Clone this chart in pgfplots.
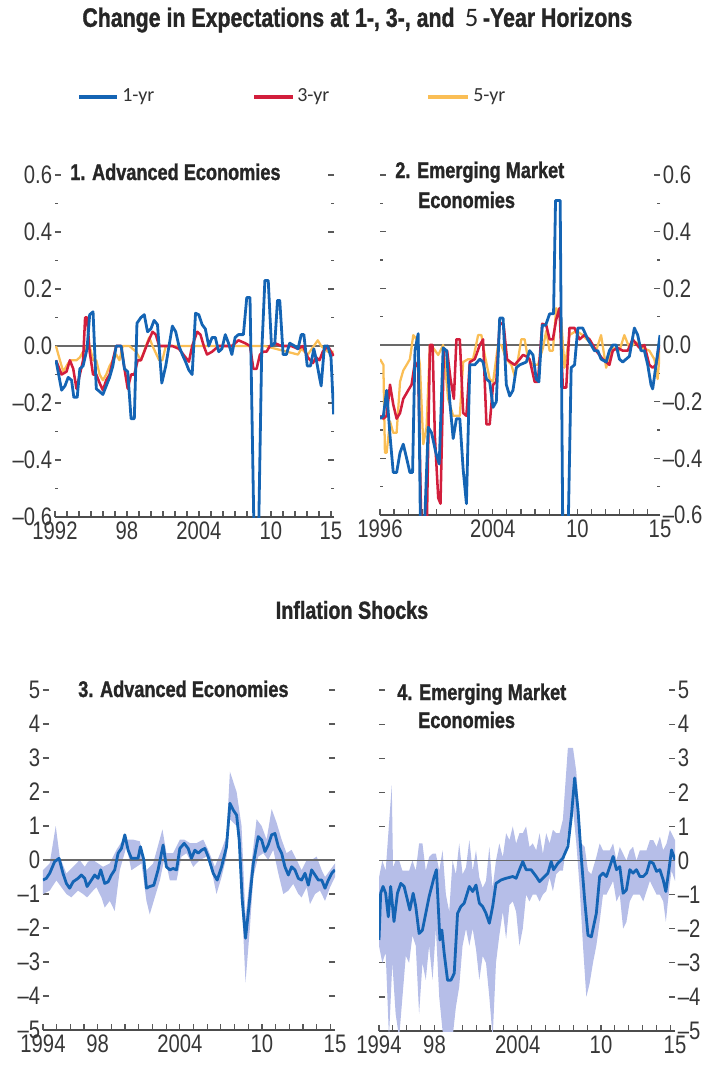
\documentclass[border=0pt]{standalone}
\usepackage{pgfplots}
\pgfplotsset{compat=1.18}
\usepackage{pgfplotstable}
\usepackage{fontspec}
\setmainfont{Liberation Sans}[FakeStretch=0.8, BoldFeatures={FakeBold=1.2}]
\newfontfamily\carlito{Carlito}

\definecolor{blueline}{RGB}{20,100,180}
\definecolor{redline}{RGB}{210,30,60}
\definecolor{yellowline}{RGB}{250,190,85}
\definecolor{bandc}{RGB}{182,190,232}
\definecolor{zeroc}{RGB}{105,105,105}
\definecolor{tickc}{RGB}{55,55,55}

% Panel 1: Advanced economies, change in expectations
\pgfplotstableread{
x y
1992.08 -0.05
1992.55 -0.155
1992.83 -0.14
1993.10 -0.11
1993.38 -0.12
1993.57 -0.18
1993.85 -0.18
1994.07 -0.08
1994.34 -0.07
1994.67 -0.01
1994.89 0.11
1995.17 0.12
1995.44 -0.15
1995.72 -0.16
1995.99 -0.17
1996.27 -0.14
1996.55 -0.11
1996.82 -0.07
1997.10 0
1997.51 0
1997.79 -0.08
1998.06 -0.09
1998.34 -0.255
1998.61 -0.255
1998.83 0.08
1999.16 0.10
1999.44 0.11
1999.71 0.05
1999.99 0.06
2000.26 0.09
2000.54 0.075
2000.90 -0.13
2001.23 -0.07
2001.50 0
2001.78 0.07
2002.06 0.05
2002.33 0
2002.61 -0.03
2002.88 -0.055
2003.16 -0.085
2003.43 -0.10
2003.71 0.115
2003.98 0.11
2004.26 0.075
2004.53 0.06
2004.81 0.0
2005.09 0.03
2005.36 0.03
2005.64 -0.02
2005.91 -0.01
2006.19 0.04
2006.46 0.01
2006.74 -0.03
2007.01 0.03
2007.29 0.04
2007.70 0.04
2007.98 0.17
2008.25 0.17
2008.60 -0.70
2008.95 -0.70
2009.22 -0.03
2009.49 0.23
2009.77 0.23
2010.04 0.0
2010.32 0.01
2010.54 0.16
2010.73 0.16
2011.01 -0.03
2011.28 -0.03
2011.56 0.01
2011.97 0.0
2012.25 -0.01
2012.52 0.04
2012.74 0.04
2013.02 -0.07
2013.29 -0.07
2013.57 -0.01
2013.76 -0.045
2014.04 -0.11
2014.18 -0.14
2014.45 0.0
2014.73 0.0
2015.00 -0.04
2015.22 -0.24
}\poneA
\pgfplotstableread{
x y
1992.08 -0.05
1992.55 -0.10
1992.96 -0.09
1993.24 -0.05
1993.52 -0.08
1993.79 -0.15
1994.07 -0.10
1994.34 -0.05
1994.51 0.10
1994.67 0.10
1994.89 -0.02
1995.17 -0.10
1995.44 -0.10
1995.72 -0.13
1995.99 -0.155
1996.27 -0.12
1996.55 -0.10
1996.82 -0.05
1997.10 0
1997.51 0
1997.79 -0.08
1998.06 -0.15
1998.34 -0.10
1998.61 -0.10
1998.89 -0.05
1999.16 -0.05
1999.44 -0.02
1999.71 0.01
2000.13 0.05
2000.40 0.04
2000.68 0.0
2001.23 0
2001.78 0
2002.33 -0.01
2002.88 -0.04
2003.16 -0.055
2003.43 0
2003.85 0.05
2004.12 0.04
2004.40 0.0
2004.67 -0.03
2005.09 -0.02
2005.64 0
2006.74 0
2007.29 0.02
2007.84 0.01
2008.25 0.0
2008.53 -0.08
2008.80 -0.08
2009.08 -0.03
2009.36 -0.02
2009.63 -0.02
2009.91 0.0
2010.32 0.01
2010.87 0
2011.70 0
2012.25 -0.01
2012.66 0
2013.07 -0.04
2013.49 -0.06
2013.76 -0.04
2014.04 -0.05
2014.31 -0.02
2014.73 0
2015.22 -0.035
}\poneB
\pgfplotstableread{
x y
1992.08 0
1992.41 -0.05
1992.69 -0.09
1993.10 -0.06
1993.38 -0.05
1993.79 -0.05
1994.07 -0.04
1994.34 -0.02
1994.67 0
1994.89 0
1995.17 -0.05
1995.44 -0.05
1995.72 -0.10
1995.99 -0.12
1996.27 -0.10
1996.55 -0.07
1996.82 -0.05
1997.10 -0.03
1997.37 -0.05
1997.65 0
1998.20 0
1998.75 -0.02
1999.16 -0.05
1999.58 0
1999.85 0.03
2000.13 0
2000.68 -0.05
2000.95 -0.05
2001.23 0
2003.98 0
2009.49 0
2012.25 -0.03
2012.52 -0.01
2013.07 -0.03
2013.90 0.02
2014.18 0
2014.73 -0.02
2015.22 -0.02
}\poneC

% Panel 2: Emerging market economies, change in expectations
\pgfplotstableread{
x y
1996.00 -0.26
1996.24 -0.25
1996.47 -0.16
1996.71 -0.32
1996.94 -0.45
1997.18 -0.45
1997.42 -0.38
1997.65 -0.35
1997.89 -0.40
1998.12 -0.45
1998.31 -0.45
1998.48 -0.02
1998.71 0.04
1998.88 -0.70
1999.11 -0.70
1999.42 -0.29
1999.66 -0.31
1999.96 -0.38
2000.20 -0.42
2000.48 -0.01
2000.72 -0.02
2000.95 -0.20
2001.19 -0.33
2001.42 -0.26
2001.66 -0.26
2001.90 -0.44
2002.13 -0.56
2002.37 -0.07
2002.72 -0.07
2003.08 -0.05
2003.31 -0.06
2003.55 -0.12
2003.78 -0.13
2004.02 -0.22
2004.25 -0.20
2004.49 0.095
2004.73 0.095
2004.96 -0.14
2005.20 -0.18
2005.43 -0.16
2005.67 -0.08
2005.91 -0.07
2006.38 -0.06
2006.61 -0.02
2006.85 -0.035
2007.08 -0.12
2007.27 -0.13
2007.51 0.07
2007.75 0.07
2008.03 0.11
2008.31 0.11
2008.45 0.51
2008.78 0.51
2008.97 -0.70
2009.33 -0.70
2009.56 -0.08
2009.80 -0.07
2010.03 0.06
2010.38 0.06
2010.74 0.02
2010.98 0.0
2011.21 -0.02
2011.45 -0.02
2011.68 -0.05
2012.04 -0.06
2012.27 -0.02
2012.51 0.0
2012.75 0.0
2012.98 -0.05
2013.22 -0.06
2013.45 -0.05
2013.69 -0.04
2014.04 0.06
2014.28 0.035
2014.51 -0.02
2014.75 -0.02
2014.99 -0.07
2015.22 -0.14
2015.34 -0.155
2015.58 -0.07
2015.86 0.035
}\ptwoA
\pgfplotstableread{
x y
1996.00 -0.25
1996.24 -0.26
1996.47 -0.25
1996.71 -0.14
1996.94 -0.21
1997.18 -0.26
1997.42 -0.24
1997.65 -0.19
1998.00 -0.16
1998.24 -0.14
1998.48 -0.06
1998.71 -0.08
1998.95 -0.70
1999.30 -0.70
1999.54 0.0
1999.73 0.0
1999.89 -0.32
2000.13 -0.54
2000.29 -0.56
2000.53 -0.02
2000.76 -0.02
2001.00 -0.12
2001.24 -0.19
2001.42 0.02
2001.66 0.02
2001.90 -0.24
2002.13 -0.25
2002.37 -0.06
2002.72 -0.05
2003.08 0.0
2003.31 0.02
2003.55 -0.28
2003.78 -0.28
2004.02 -0.14
2004.25 -0.13
2004.49 0.08
2004.77 0.07
2005.01 -0.05
2005.25 -0.06
2005.55 -0.07
2005.91 -0.05
2006.14 -0.035
2006.38 -0.04
2006.61 -0.05
2006.97 -0.13
2007.20 -0.13
2007.51 0.075
2007.79 0.07
2008.03 0.02
2008.26 0.02
2008.50 0.09
2008.73 0.13
2008.97 -0.15
2009.21 -0.15
2009.44 0.06
2009.80 0.06
2010.15 0.02
2010.50 0.035
2010.86 0.02
2011.33 -0.02
2011.80 -0.05
2012.27 -0.07
2012.51 -0.02
2012.86 -0.01
2013.22 -0.02
2013.57 -0.02
2013.92 0.02
2014.40 -0.01
2014.75 0.0
2015.10 -0.07
2015.34 -0.08
2015.58 -0.07
2015.81 0.0
}\ptwoB
\pgfplotstableread{
x y
1996.00 -0.05
1996.24 -0.07
1996.35 -0.38
1996.47 -0.38
1996.71 -0.27
1996.94 -0.31
1997.18 -0.31
1997.42 -0.13
1997.65 -0.09
1997.89 -0.07
1998.12 -0.05
1998.36 0.035
1998.59 0.02
1998.83 -0.07
1999.07 -0.35
1999.30 -0.29
1999.54 0.0
1999.77 -0.01
2000.13 -0.035
2000.48 0.0
2000.83 -0.19
2001.19 -0.25
2001.42 -0.25
2001.66 -0.25
2001.90 -0.06
2002.25 -0.05
2002.60 -0.05
2002.96 0.035
2003.19 0.035
2003.43 -0.035
2003.78 -0.12
2004.02 -0.13
2004.37 0.0
2004.61 0.0
2004.96 -0.05
2005.32 -0.07
2005.55 -0.11
2005.79 -0.05
2006.02 0.02
2006.26 0.02
2006.50 -0.05
2006.85 -0.07
2007.20 -0.07
2007.56 -0.01
2007.79 0.05
2008.03 -0.02
2008.26 -0.02
2008.50 0.13
2008.85 0.09
2009.09 -0.08
2009.44 0.035
2009.92 0.05
2010.38 0.035
2010.86 0.01
2011.33 -0.02
2011.68 0.035
2012.04 -0.08
2012.51 -0.01
2012.98 -0.02
2013.33 0.035
2013.69 -0.01
2014.16 0.01
2014.63 -0.01
2015.10 -0.02
2015.46 -0.05
2015.69 -0.12
2015.86 -0.02
}\ptwoC

% Panel 3: Advanced economies, inflation shocks
\pgfplotstableread{
x y
1994.00 -0.59
1994.24 -0.54
1994.49 -0.39
1994.85 -0.05
1995.17 0.05
1995.46 -0.39
1995.71 -0.69
1995.95 -0.83
1996.20 -0.64
1996.56 -0.54
1996.80 -0.44
1997.05 -0.54
1997.22 -0.78
1997.54 -0.59
1997.78 -0.44
1998.02 -0.54
1998.22 -0.29
1998.51 -0.69
1998.76 -0.64
1999.00 -0.44
1999.24 -0.29
1999.49 0.20
1999.73 0.34
1999.98 0.74
2000.22 0.29
2000.46 0.05
2000.71 0.05
2000.95 0.05
2001.12 0.39
2001.37 0.00
2001.56 -0.83
2001.80 -0.78
2002.10 -0.74
2002.41 -0.29
2002.78 0.44
2003.02 -0.20
2003.27 -0.29
2003.51 -0.25
2003.76 -0.29
2004.00 0.34
2004.32 0.49
2004.61 0.34
2004.85 0.05
2005.10 0.29
2005.34 0.20
2005.59 0.29
2005.83 0.34
2006.07 0.10
2006.44 -0.39
2006.73 -0.59
2007.05 -0.20
2007.41 0.39
2007.66 1.67
2007.90 1.47
2008.15 1.32
2008.34 0.59
2008.56 -1.18
2008.80 -2.30
2009.05 -1.37
2009.37 -0.10
2009.73 0.69
2009.98 0.59
2010.22 0.25
2010.46 0.44
2010.71 0.74
2010.95 0.78
2011.20 0.39
2011.44 0.20
2011.68 -0.20
2011.93 -0.44
2012.17 -0.20
2012.41 -0.29
2012.66 -0.54
2012.90 -0.59
2013.15 -0.39
2013.39 -0.74
2013.63 -0.29
2013.88 -0.44
2014.12 -0.59
2014.37 -0.59
2014.61 -0.83
2014.85 -0.59
2015.10 -0.39
2015.34 -0.29
}\pthree
% band: upper edge left to right, then lower edge right to left
\pgfplotstableread{
x y
1994.00 -0.3
1994.49 -0.1
1994.93 1.0
1995.22 0.1
1995.71 -0.4
1996.20 -0.2
1996.68 0.0
1997.05 -0.2
1997.29 -0.05
1997.66 0.0
1998.02 -0.1
1998.39 -0.2
1998.88 -0.1
1999.37 0.3
1999.85 0.6
2000.22 0.6
2000.59 0.6
2001.07 0.55
2001.56 -0.3
2002.05 -0.1
2002.73 0.9
2003.02 0.2
2003.51 0.2
2004.00 0.6
2004.32 0.6
2004.73 0.5
2005.22 0.5
2005.71 0.6
2006.07 0.3
2006.56 -0.2
2007.05 0.3
2007.41 0.7
2007.66 2.6
2008.15 2.0
2008.51 1.0
2008.80 -1.7
2009.12 -0.5
2009.61 1.2
2009.98 1.0
2010.34 0.6
2010.71 1.5
2011.07 1.1
2011.44 0.6
2011.80 0.2
2012.17 0.3
2012.54 0.0
2012.90 -0.3
2013.27 0.0
2013.63 0.0
2014.00 0.1
2014.37 -0.3
2014.61 -0.5
2014.98 -0.3
2015.34 -0.1
2015.34 -0.5
2014.98 -0.8
2014.61 -1.2
2014.24 -0.9
2013.88 -1.0
2013.51 -1.3
2013.27 -0.8
2012.90 -1.1
2012.66 -1.0
2012.29 -0.7
2011.93 -0.9
2011.56 -1.0
2011.20 -0.4
2010.83 0.3
2010.46 0.0
2010.10 0.2
2009.73 0.1
2009.37 -0.5
2009.12 -2.0
2008.80 -3.6
2008.39 0.0
2008.15 1.0
2007.66 1.2
2007.41 0.1
2007.05 -0.5
2006.68 -1.0
2006.32 -0.3
2005.95 0.1
2005.46 0.0
2004.98 -0.2
2004.49 0.2
2004.12 0.1
2003.76 -0.6
2003.27 -0.6
2002.90 0.1
2002.54 -0.6
2002.17 -1.1
2001.80 -1.6
2001.56 -1.2
2001.20 -0.1
2000.83 -0.2
2000.46 -0.3
2000.10 0.4
1999.61 -0.3
1999.24 -1.5
1998.88 -1.2
1998.51 -1.4
1998.27 -1.1
1997.90 -0.8
1997.66 -0.9
1997.22 -1.1
1996.93 -1.0
1996.56 -0.9
1996.07 -1.1
1995.71 -1.0
1995.34 -0.8
1994.98 -0.6
1994.49 -0.9
1994.00 -1.0
}\pthreeband

% Panel 4: Emerging market economies, inflation shocks
\pgfplotstableread{
x y
1994.00 -2.33
1994.12 -0.96
1994.29 -0.76
1994.48 -0.96
1994.67 -1.65
1994.84 -0.76
1995.08 -1.79
1995.33 -0.96
1995.57 -0.67
1995.81 -0.76
1996.05 -1.16
1996.22 -1.45
1996.46 -0.96
1996.65 -1.35
1996.89 -2.14
1997.13 -2.04
1997.37 -1.55
1997.61 -1.06
1997.98 -0.47
1998.14 -0.27
1998.39 -2.33
1998.53 -2.04
1998.70 -2.73
1998.94 -3.51
1999.18 -3.51
1999.42 -3.31
1999.66 -1.55
1999.90 -1.35
2000.14 -1.25
2000.51 -0.76
2000.75 -0.91
2000.99 -0.72
2001.23 -1.25
2001.47 -1.35
2001.71 -1.55
2001.95 -1.84
2002.19 -1.35
2002.43 -0.67
2002.80 -0.57
2003.16 -0.52
2003.64 -0.47
2003.88 -0.52
2004.12 -0.27
2004.36 -0.03
2004.60 -0.27
2004.96 -0.27
2005.33 -0.47
2005.57 -0.62
2005.93 -0.47
2006.17 -0.37
2006.41 -0.03
2006.58 -0.27
2006.89 -0.08
2007.25 0.07
2007.61 0.41
2007.86 1.29
2008.10 2.42
2008.34 1.49
2008.58 0.07
2008.82 -1.16
2009.06 -2.19
2009.30 -2.24
2009.66 -1.55
2009.90 -0.47
2010.14 -0.37
2010.39 -0.47
2010.63 -0.18
2010.87 0.12
2011.11 -0.27
2011.35 -0.18
2011.59 -0.96
2011.83 -0.86
2012.07 -0.27
2012.31 -0.37
2012.55 -0.27
2012.80 -0.47
2013.04 -0.47
2013.28 -0.37
2013.52 -0.03
2013.76 -0.08
2014.00 -0.32
2014.24 -0.27
2014.48 -0.57
2014.67 -0.91
2014.92 -0.18
2015.08 0.31
2015.33 0.02
}\pfour
\pgfplotstableread{
x y
1994.00 -0.5
1994.24 0.0
1994.48 -0.3
1994.92 2.2
1995.01 -0.2
1995.20 0.0
1995.45 0.0
1995.69 -0.3
1995.93 -0.3
1996.17 -0.3
1996.41 0.0
1996.65 -0.3
1996.89 0.5
1997.13 0.5
1997.37 -0.3
1997.61 0.1
1997.86 0.2
1998.10 0.2
1998.34 -0.3
1998.58 0.3
1998.82 -1.0
1999.06 -1.5
1999.30 0.0
1999.54 -0.4
1999.78 0.5
2000.02 -0.4
2000.27 -0.2
2000.51 0.6
2000.75 -0.3
2000.99 0.3
2001.23 -0.5
2001.47 -0.8
2001.71 -0.6
2001.95 0.4
2002.19 -0.8
2002.43 0.0
2002.67 0.5
2002.92 0.1
2003.16 0.8
2003.40 0.6
2003.64 1.0
2003.88 0.5
2004.12 0.8
2004.36 0.8
2004.60 1.0
2004.84 0.4
2005.08 0.5
2005.33 0.3
2005.57 0.8
2005.81 0.2
2006.05 0.8
2006.29 0.5
2006.53 0.9
2006.77 0.8
2007.01 0.8
2007.25 1.2
2007.61 3.3
2007.98 3.3
2008.22 2.6
2008.58 0.5
2008.82 0.4
2009.06 -0.3
2009.30 -0.4
2009.66 0.1
2009.90 0.5
2010.14 0.3
2010.39 0.3
2010.63 0.3
2010.87 0.5
2011.11 0.0
2011.35 0.4
2011.59 0.2
2011.83 0.0
2012.07 0.3
2012.31 0.4
2012.55 0.0
2012.80 0.3
2013.04 0.3
2013.28 0.3
2013.52 0.6
2013.76 0.6
2014.00 0.4
2014.24 0.7
2014.48 0.3
2014.72 0.5
2014.96 0.9
2015.33 0.6
2015.33 -0.6
2015.08 -0.3
2014.92 -0.8
2014.67 -1.8
2014.48 -1.2
2014.24 -1.0
2014.00 -1.0
2013.76 -0.8
2013.52 -0.6
2013.28 -0.9
2013.04 -1.2
2012.80 -1.0
2012.55 -1.0
2012.31 -1.0
2012.07 -1.2
2011.83 -1.8
2011.59 -2.0
2011.35 -1.0
2011.11 -1.2
2010.87 -0.6
2010.63 -0.8
2010.39 -1.0
2010.14 -1.0
2009.90 -1.8
2009.66 -2.5
2009.42 -3.0
2009.18 -3.6
2008.94 -4.0
2008.70 -2.5
2008.46 -0.8
2008.22 0.5
2007.98 1.5
2007.61 0.8
2007.25 -0.3
2007.01 -0.3
2006.77 -0.4
2006.53 -0.9
2006.29 -0.5
2006.05 -0.9
2005.81 -1.0
2005.57 -1.2
2005.33 -1.0
2005.08 -1.0
2004.84 -1.2
2004.60 -1.0
2004.36 -2.0
2004.12 -2.5
2003.88 -1.5
2003.64 -1.2
2003.40 -1.3
2003.16 -2.3
2002.92 -1.5
2002.67 -2.2
2002.43 -3.0
2002.19 -5.2
2001.95 -4.0
2001.71 -3.0
2001.47 -2.8
2001.23 -3.5
2000.99 -2.6
2000.75 -2.0
2000.51 -2.5
2000.27 -2.0
2000.02 -2.5
1999.78 -3.7
1999.54 -4.3
1999.30 -5.2
1999.06 -5.2
1998.82 -5.2
1998.58 -5.0
1998.34 -4.0
1998.10 -2.0
1997.86 -3.5
1997.61 -2.5
1997.37 -3.5
1997.13 -3.0
1996.89 -4.5
1996.65 -2.5
1996.41 -2.2
1996.17 -3.0
1995.93 -2.8
1995.69 -4.0
1995.45 -5.2
1995.20 -4.5
1994.96 -3.0
1994.72 -5.2
1994.48 -2.7
1994.24 -3.0
1994.00 -2.5
}\pfourband

\pgfplotsset{
  every non boxed x axis/.style={},
  every non boxed y axis/.style={},
  panel/.style={
    scale only axis,
    axis x line=bottom,
    axis y line=box,
    x axis line style={-, draw=black!70, line width=0.9pt},
    y axis line style={draw=none},
    tick align=inside,
    xtick align=inside,
    major tick length=4.5pt,
    minor tick length=2pt,
    every tick/.style={draw=black!65, line width=0.9pt},
    tick label style={font=\fontsize{19}{21}\selectfont, text=tickc},
    yticklabel style={inner sep=2pt},
    enlargelimits=false,
    /pgf/number format/assume math mode=true,
    extra x tick style={major tick length=0pt},
  },
  zero/.style={draw=zeroc, line width=1.1pt, forget plot},
  l1/.style={draw=blueline, line width=2.1pt, line join=round},
  l3/.style={draw=redline, line width=1.9pt, line join=round},
  l5/.style={draw=yellowline, line width=1.7pt, line join=round},
}

\begin{document}
\begin{tikzpicture}
\useasboundingbox (0,0) rectangle (531pt,-800.25pt);

% ---- Title and legend
\node[text=black!85] at (268pt,-15pt) {\fontsize{20}{23}\selectfont\bfseries Change in Expectations at 1-, 3-, and\, {\carlito\mdseries 5}\,-Year Horizons};
\draw[blueline, line width=2.4pt] (59.25pt,-72.75pt) -- (87.75pt,-72.75pt);
\node[anchor=west, inner sep=0pt, text=black!80] at (91.5pt,-72.75pt) {\carlito\fontsize{15}{17}\selectfont 1-yr};
\draw[redline, line width=2.4pt] (190.5pt,-72.75pt) -- (219.75pt,-72.75pt);
\node[anchor=west, inner sep=0pt, text=black!80] at (222.75pt,-72.75pt) {\carlito\fontsize{15}{17}\selectfont 3-yr};
\draw[yellowline, line width=2.4pt] (321pt,-72.75pt) -- (351pt,-72.75pt);
\node[anchor=west, inner sep=0pt, text=black!80] at (354.75pt,-72.75pt) {\carlito\fontsize{15}{17}\selectfont 5-yr};

% ---- Panel 1
\begin{axis}[panel,
  at={(41.25pt,-387.75pt)}, anchor=south west,
  width=209.25pt, height=256.5pt,
  xmin=1992, xmax=2015.25, ymin=-0.6, ymax=0.6,
  xtick={1992,...,2015},
  xticklabels={1992,,,,,,98,,,,,,2004,,,,,,10,,,,,15},
  ytick={-0.6,-0.4,...,0.6},
  yticklabels={--0.6,--0.4,--0.2,0.0,0.2,0.4,0.6},
  minor y tick num=1,
]
\addplot[zero] coordinates {(1992,0) (2015.25,0)};
\addplot[l5] table {\poneC};
\addplot[l3] table {\poneB};
\addplot[l1] table {\poneA};
\end{axis}

% ---- Panel 2
\begin{axis}[panel,
  at={(285pt,-386.25pt)}, anchor=south west,
  width=210pt, height=255pt,
  xmin=1996, xmax=2015.86, ymin=-0.6, ymax=0.6,
  xtick={1996,...,2015},
  xticklabels={1996,,,,,,,,2004,,,,,,10,,,,,},
  extra x ticks={2015.86}, extra x tick labels={15},
  ytick={-0.6,-0.4,...,0.6},
  yticklabels={--0.6,--0.4,--0.2,0.0,0.2,0.4,0.6},
  yticklabel pos=right,
  minor y tick num=1,
]
\addplot[zero] coordinates {(1996,0) (2015.86,0)};
\addplot[l5] table {\ptwoC};
\addplot[l3] table {\ptwoB};
\addplot[l1] table {\ptwoA};
\end{axis}

% ---- Panel 3
\begin{axis}[panel,
  at={(32.25pt,-772.5pt)}, anchor=south west,
  width=219pt, height=255pt,
  xmin=1994, xmax=2015.34, ymin=-5, ymax=5,
  xtick={1994,...,2015},
  xticklabels={1994,,,,98,,,,,,2004,,,,,,10,,,,,},
  extra x ticks={2015.34}, extra x tick labels={15},
  ytick={-5,...,5},
  yticklabels={--5,--4,--3,--2,--1,0,1,2,3,4,5},
]
\addplot[fill=bandc, draw=none, forget plot] table {\pthreeband};
\addplot[zero] coordinates {(1994,0) (2015.34,0)};
\addplot[l1] table {\pthree};
\end{axis}

% ---- Panel 4
\begin{axis}[panel,
  at={(284.25pt,-773.25pt)}, anchor=south west,
  width=222pt, height=255.75pt,
  xmin=1994, xmax=2015.33, ymin=-5, ymax=5,
  xtick={1994,...,2015},
  xticklabels={1994,,,,98,,,,,,2004,,,,,,10,,,,,},
  extra x ticks={2015.33}, extra x tick labels={15},
  ytick={-5,...,5},
  yticklabels={--5,--4,--3,--2,--1,0,1,2,3,4,5},
  yticklabel pos=right,
]
\addplot[fill=bandc, draw=none, forget plot] table {\pfourband};
\addplot[zero] coordinates {(1994,0) (2015.33,0)};
\addplot[l1] table {\pfour};
\end{axis}

% ---- Panel titles
\node[anchor=base west, inner sep=0pt, text=black!85] at (52.5pt,-135pt) {\fontsize{17}{19}\selectfont\bfseries 1. Advanced Economies};
\node[anchor=base west, inner sep=0pt, text=black!85] at (296.25pt,-133.5pt) {\fontsize{17}{19}\selectfont\bfseries 2. Emerging Market};
\node[anchor=base west, inner sep=0pt, text=black!85] at (313.5pt,-156pt) {\fontsize{17}{19}\selectfont\bfseries Economies};
\node[text=black!85] at (264pt,-457.5pt) {\fontsize{18.5}{20}\selectfont\bfseries Inflation Shocks};
\node[anchor=base west, inner sep=0pt, text=black!85] at (58.5pt,-522.75pt) {\fontsize{17}{19}\selectfont\bfseries 3. Advanced Economies};
\node[anchor=base west, inner sep=0pt, text=black!85] at (297.75pt,-525pt) {\fontsize{17}{19}\selectfont\bfseries 4. Emerging Market};
\node[anchor=base west, inner sep=0pt, text=black!85] at (313.5pt,-546pt) {\fontsize{17}{19}\selectfont\bfseries Economies};
\end{tikzpicture}
\end{document}
